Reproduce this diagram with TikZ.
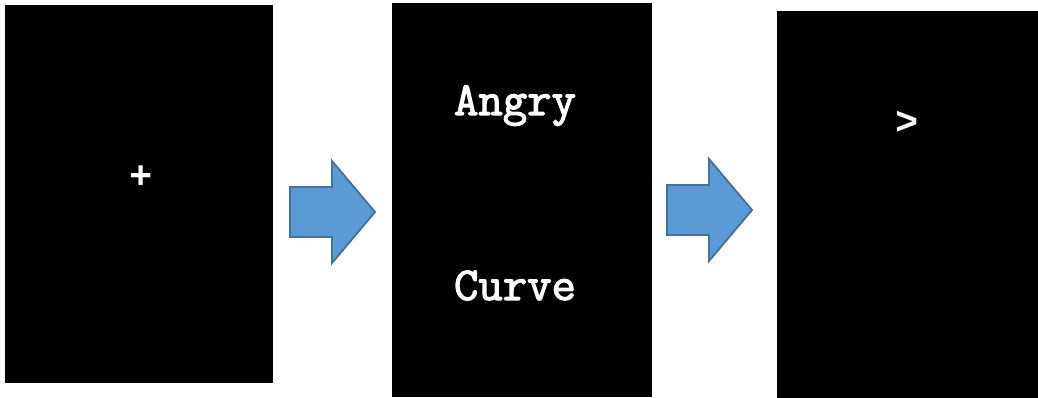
\documentclass[tikz,border=0pt]{standalone}
\usepackage{fontspec}
\newfontfamily\symbfont{Liberation Mono}
\newfontfamily\wordfont[FakeBold=2.5]{Latin Modern Mono}
\definecolor{Arrowfill}{HTML}{5B9BD5}
\definecolor{Arrowedge}{HTML}{41719C}
\begin{document}
\begin{tikzpicture}[x=0.75pt,y=-0.75pt,
		word/.style={text=white,font=\wordfont\fontsize{35.5}{35.5}\selectfont,inner sep=0pt},
		sign/.style={text=white,font=\symbfont\bfseries\fontsize{29}{29}\selectfont,inner sep=0pt},
		blockarrow/.style={fill=Arrowfill,draw=Arrowedge,line width=1.4pt,line join=miter}]
	\useasboundingbox (0,0) rectangle (1038,398);
	% the three screens
	\fill[black] (5,5) rectangle (273,383);
	\fill[black] (392,3) rectangle (652,397);
	\fill[black] (777,11) rectangle (1038,398);
	\node[sign] (fix) at (141,177) {+};
	\node[word,anchor=base] (angry) at (515,115) {Angry};
	\node[word,anchor=base] (curve) at (515,300) {Curve};
	\node[sign] (probe) at (907,123) {>};
	% arrows between screens
	\foreach \x/\y in {290/212,667/210}{
			\draw[blockarrow] (\x,\y-25) -- (\x+42,\y-25) -- (\x+42,\y-51)
			-- (\x+85,\y) -- (\x+42,\y+51) -- (\x+42,\y+25) -- (\x,\y+25) -- cycle;}
\end{tikzpicture}
\end{document}
